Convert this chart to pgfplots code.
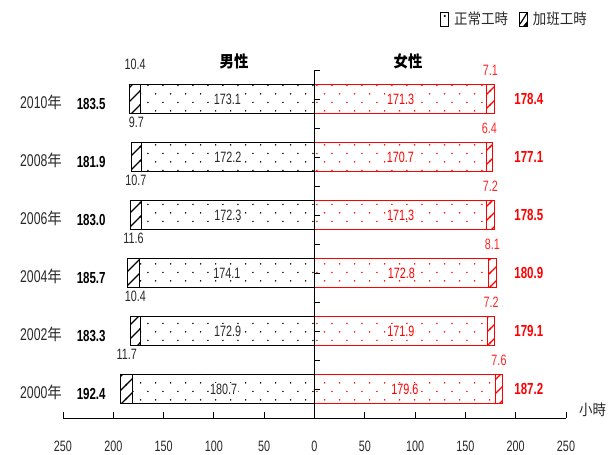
\documentclass[border=0pt]{standalone}
\usepackage{pgfplots}
\pgfplotsset{compat=1.18}
\usepackage{pgfplotstable}
\usepackage{fontspec}
\usetikzlibrary{patterns}
\setmainfont{Liberation Sans}[FakeStretch=0.72]
\newfontfamily\cjk{Noto Sans CJK TC}[FakeStretch=0.9]
\newcommand\nian{{\cjk\fontsize{16}{18}\selectfont 年}}

% sparse dots for regular hours, sparse slashes for overtime
\pgfdeclarepatternformonly{sdots}{\pgfpointorigin}{\pgfqpoint{15.3pt}{17.4pt}}{\pgfqpoint{15.3pt}{17.4pt}}{%
  \pgfpathcircle{\pgfqpoint{3.8pt}{4.3pt}}{0.85pt}%
  \pgfpathcircle{\pgfqpoint{11.45pt}{13pt}}{0.85pt}%
  \pgfusepath{fill}}
\pgfdeclarepatternformonly{shatch}{\pgfqpoint{-1pt}{-1pt}}{\pgfqpoint{15pt}{15pt}}{\pgfqpoint{14pt}{14pt}}{%
  \pgfsetlinewidth{1.2pt}%
  \pgfpathmoveto{\pgfqpoint{-1pt}{-1pt}}\pgfpathlineto{\pgfqpoint{15pt}{15pt}}%
  \pgfusepath{stroke}}

% y: 0 = 2000 ... 5 = 2010
\pgfplotstableread{
y mreg mot mtot freg fot ftot
5 173.1 10.4 183.5 171.3 7.1 178.4
4 172.2 9.7 181.9 170.7 6.4 177.1
3 172.3 10.7 183.0 171.3 7.2 178.5
2 174.1 11.6 185.7 172.8 8.1 180.9
1 172.9 10.4 183.3 171.9 7.2 179.1
0 180.7 11.7 192.4 179.6 7.6 187.2
}\hours

\definecolor{txt}{RGB}{40,40,40}

\begin{document}
\fontsize{15}{18}\selectfont
\begin{tikzpicture}
\begin{axis}[
  name=ax, scale only axis, width=503pt, height=348pt,
  xmin=-250, xmax=250, ymin=-0.5, ymax=5.5,
  axis x line=bottom, axis y line=left,
  axis line style={-, line width=0.8pt},
  y axis line style={draw=none},
  tick align=inside, major tick length=6pt,
  xtick={-250,-200,...,250},
  xtick style={line width=0.8pt, black},
  xticklabel={\pgfmathparse{abs(\tick)}\pgfmathprintnumber[fixed,precision=0]{\pgfmathresult}},
  xticklabel style={yshift=-18pt, text=txt},
  /pgf/number format/assume math mode=true,
  ytick={0,...,5},
  yticklabels={2000\nian,2002\nian,2004\nian,2006\nian,2008\nian,2010\nian},
  ytick style={draw=none},
  yticklabel style={text=txt, inner sep=1pt, yshift=-3pt, font=\fontsize{17}{19}\selectfont},
  xlabel={\cjk 小時},
  x label style={at={(axis description cs:1,0)}, anchor=west, xshift=8pt, yshift=8pt, text=txt},
  clip=false,
  hb/.style={xbar, bar width=29pt, bar shift=0pt, line width=0.9pt, forget plot},
  num/.style={nodes near coords={\pgfmathprintnumber[fixed,fixed zerofill,precision=1]{\pgfplotspointmeta}}},
  legend style={draw=none, fill=none, at={(rel axis cs:1.052,1.18)}, anchor=north east,
    font=\cjk\fontsize{15}{17}\selectfont, text=txt,
    /tikz/every odd column/.append style={column sep=3pt},
    /tikz/every even column/.append style={column sep=9pt}},
  legend columns=2,
]
\addlegendimage{legend image code/.code={%
  \draw[black, line width=0.8pt] (0pt,-7pt) rectangle (8pt,7pt);
  \fill[black] (4pt,3pt) circle (0.9pt);}}
\addlegendentry{正常工時}
\addlegendimage{legend image code/.code={%
  \draw[black, line width=0.8pt] (0pt,-7pt) rectangle (8pt,7pt);
  \draw[black, line width=1.2pt] (0.5pt,-5pt) -- (7.5pt,6pt);
  \fill[black] (8pt,-7pt) -- (8pt,-2pt) -- (4pt,-7pt) -- cycle;}}
\addlegendentry{加班工時}

% ---- male (left) ----
\addplot[hb, draw=black, pattern=shatch, pattern color=black, num,
  point meta=\thisrow{mot},
  visualization depends on={\thisrow{mot} \as \vmot},
  nodes near coords style={anchor=south, inner sep=1pt, yshift=28pt, text=txt,
    shift={(axis direction cs:\vmot/2,0)}}]
  table[x expr=-\thisrow{mtot}, y=y]{\hours};
\addplot[hb, draw=black, preaction={fill=white}, pattern=sdots, pattern color=black, num,
  point meta=\thisrow{mreg},
  visualization depends on={\thisrow{mreg} \as \vmreg},
  nodes near coords style={anchor=center, inner sep=1pt, fill=white, text=txt,
    shift={(axis direction cs:\vmreg/2,0)}}]
  table[x expr=-\thisrow{mreg}, y=y]{\hours};
\addplot[hb, draw=none, fill=none, num,
  point meta=\thisrow{mtot},
  visualization depends on={\thisrow{mtot} \as \vmtot},
  nodes near coords style={anchor=center, yshift=-5pt, text=black,
    font=\fontsize{16}{18}\selectfont\bfseries,
    shift={(axis direction cs:\vmtot-222,0)}}]
  table[x expr=-\thisrow{mtot}, y=y]{\hours};

% ---- female (right) ----
\addplot[hb, draw=red, pattern=shatch, pattern color=red, num,
  point meta=\thisrow{fot},
  visualization depends on={\thisrow{fot} \as \vfot},
  nodes near coords style={anchor=south, inner sep=1pt, yshift=22pt, text=red!85,
    shift={(axis direction cs:-\vfot/2,0)}}]
  table[x=ftot, y=y]{\hours};
\addplot[hb, draw=red, preaction={fill=white}, pattern=sdots, pattern color=red, num,
  point meta=\thisrow{freg},
  visualization depends on={\thisrow{freg} \as \vfreg},
  nodes near coords style={anchor=center, inner sep=1pt, fill=white, text=red,
    shift={(axis direction cs:-\vfreg/2,0)}}]
  table[x=freg, y=y]{\hours};
\addplot[hb, draw=none, fill=none, num,
  point meta=\thisrow{ftot},
  visualization depends on={\thisrow{ftot} \as \vftot},
  nodes near coords style={anchor=center, text=red,
    font=\fontsize{16}{18}\selectfont\bfseries,
    shift={(axis direction cs:213-\vftot,0)}}]
  table[x=ftot, y=y]{\hours};

% centre axis with its small ticks
\draw[line width=0.8pt] (axis cs:0,-0.5) -- (axis cs:0,5.5);
\pgfplotsinvokeforeach{0,...,12}{
  \draw[line width=0.8pt] (axis cs:0,#1/2-0.5) -- ([xshift=5pt]axis cs:0,#1/2-0.5);}

\node[font=\cjk\bfseries\fontsize{16}{18}\selectfont, yshift=9pt] at (axis cs:-80,5.5) {男性};
\node[font=\cjk\bfseries\fontsize{16}{18}\selectfont, yshift=9pt] at (axis cs:93,5.5) {女性};
\end{axis}
\pgfresetboundingbox
\path (ax.south west) ++(-63pt,-37pt) rectangle ++(611pt,455pt);
\end{tikzpicture}
\end{document}
